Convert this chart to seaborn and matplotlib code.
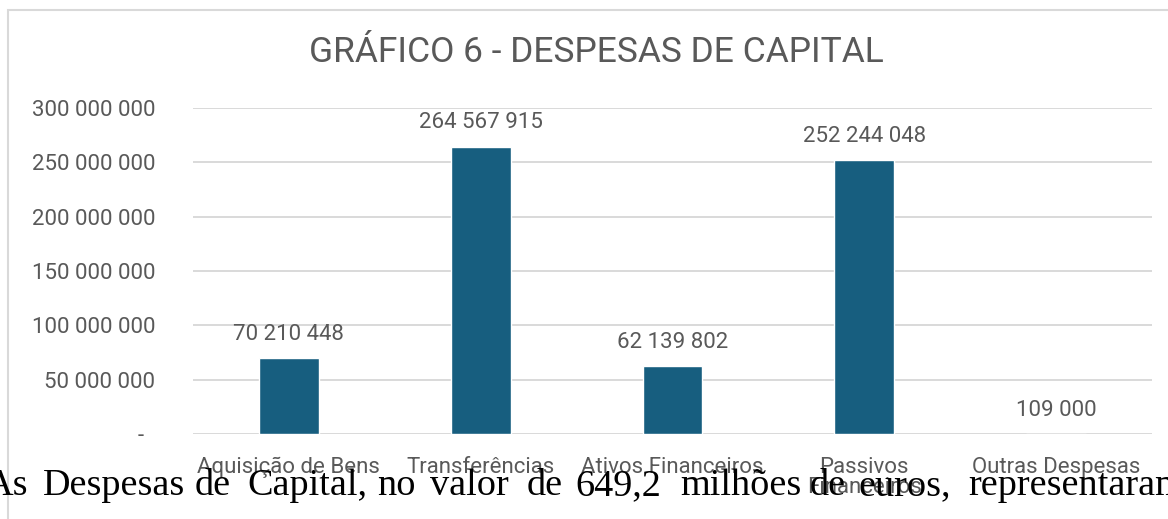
import matplotlib
matplotlib.use("Agg")
import matplotlib.pyplot as plt
import seaborn as sns
import pandas as pd
from matplotlib.patches import Rectangle
from matplotlib.ticker import FixedLocator

# data
categorias = ["Aquisição de Bens", "Transferências", "Ativos Financeiros",
              "Passivos\nFinanceiros", "Outras Despesas"]
valores = [70210448, 264567915, 62139802, 252244048, 109000]
yticks = [0, 50e6, 100e6, 150e6, 200e6, 250e6, 300e6]
ytick_labels = ["-  ", "50 000 000", "100 000 000", "150 000 000",
                "200 000 000", "250 000 000", "300 000 000"]
titulo = "GRÁFICO 6 - DESPESAS DE CAPITAL"

# document text under the chart (word, left x in px)
frase = ["As", "Despesas", "de", "Capital,", "no", "valor", "de", "649,2",
         "milhões", "de", "euros,", "representaram"]
frase_x = [-14, 43, 195, 247, 377, 430, 527, 575, 680, 810, 858, 968]

sns.set_style("white")
plt.rcParams["font.family"] = ["Roboto", "DejaVu Sans"]

W, H = 1168, 519
fig = plt.figure(figsize=(W / 100, H / 100), dpi=100)
ax = fig.add_axes([193 / W, 1 - 434 / H, (1152 - 193) / W, (434 - 108) / H])

df = pd.DataFrame({"cat": categorias, "val": valores})
sns.barplot(data=df, x="cat", y="val", color="#175E7F", width=0.3125,
            saturation=1, ax=ax, zorder=3)

ax.set_xlim(-0.5, 4.5)
ax.set_ylim(0, 300e6)
ax.yaxis.set_major_locator(FixedLocator(yticks))
ax.set_yticklabels(ytick_labels)
ax.grid(axis="y", color="#D9D9D9", linewidth=1.4, zorder=0)
ax.grid(axis="x", visible=False)
for s in ax.spines.values():
    s.set_visible(False)
ax.tick_params(axis="y", length=0, pad=27, labelsize=16, labelcolor="#595959")
ax.tick_params(axis="x", length=0, pad=16.5, labelsize=16, labelcolor="#595959")
for t in ax.get_xticklabels():
    t.set_linespacing(0.95)
ax.set_xlabel("")
ax.set_ylabel("")

for i, v in enumerate(valores):
    lbl = f"{v:,}".replace(",", " ")
    ax.annotate(lbl, (i, v), xytext=(0, 17), textcoords="offset points",
                ha="center", va="center", fontsize=16, color="#595959")

fig.text(596 / W, 1 - 52 / H, titulo, ha="center", va="center",
         fontsize=25.5, color="#595959")

# chart frame
fig.patches.append(Rectangle((8 / W, -0.2), 1.2, 1.2 - 10 / H,
                             transform=fig.transFigure, fill=False,
                             edgecolor="#D9D9D9", linewidth=1.5))

for w, x in zip(frase, frase_x):
    fig.text(x / W, 1 - 495 / H, w, ha="left", va="baseline",
             fontsize=27.5, color="black", family=["Liberation Serif", "DejaVu Serif"])

fig.savefig("out.png", dpi=100)
